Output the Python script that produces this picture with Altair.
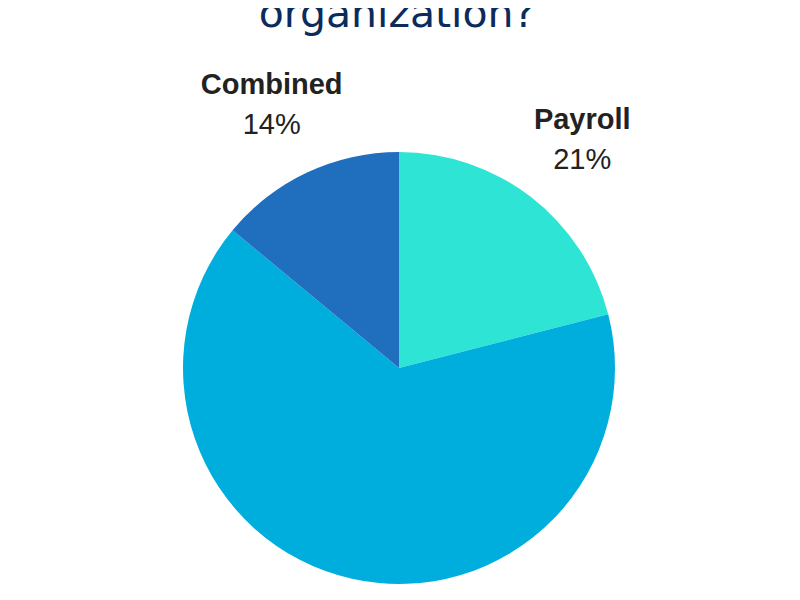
import altair as alt
import pandas as pd

categories = ["Payroll", "Separate", "Combined"]
shares = [21, 65, 14]
pct_labels = ["21%", "65%", "14%"]
slice_order = [0, 1, 2]
colors = ["#2EE5D5", "#00AEDD", "#1F6FBE"]
title_text = ["organization?"]

df = pd.DataFrame({"category": categories, "share": shares,
                   "pct": pct_labels, "order": slice_order})

cx, cy = 391, 360

base = alt.Chart(df).encode(
    theta=alt.Theta("share:Q", stack=True),
    order=alt.Order("order:Q"),
    x=alt.value(cx),
    y=alt.value(cy),
)

arcs = base.mark_arc(radius=216).encode(
    color=alt.Color("category:N",
                    scale=alt.Scale(domain=categories, range=colors),
                    legend=None)
)

visible = alt.datum.category != "Separate"

names = base.mark_text(radius=299, dy=-3, fontSize=29, fontWeight="bold",
                       font="Liberation Sans", color="#222222",
                       baseline="alphabetic").encode(
    text="category:N",
    opacity=alt.condition(visible, alt.value(1), alt.value(0)))

pcts = base.mark_text(radius=299, dy=37, fontSize=29,
                      font="Liberation Sans", color="#222222",
                      baseline="alphabetic").encode(
    text="pct:N",
    opacity=alt.condition(visible, alt.value(1), alt.value(0)))

title = alt.Chart(pd.DataFrame({"t": title_text})).mark_text(
    fontSize=41, font="DejaVu Sans", color="#0C2B5C",
    baseline="alphabetic", align="center"
).encode(text="t:N", x=alt.value(389), y=alt.value(19))

chart = alt.layer(arcs, names, pcts, title).properties(
    width=784, height=584,
    autosize=alt.AutoSizeParams(type="none"),
    padding=0,
).configure_view(stroke=None)

chart.save("out.html", embed_options={"renderer": "svg", "actions": False})
